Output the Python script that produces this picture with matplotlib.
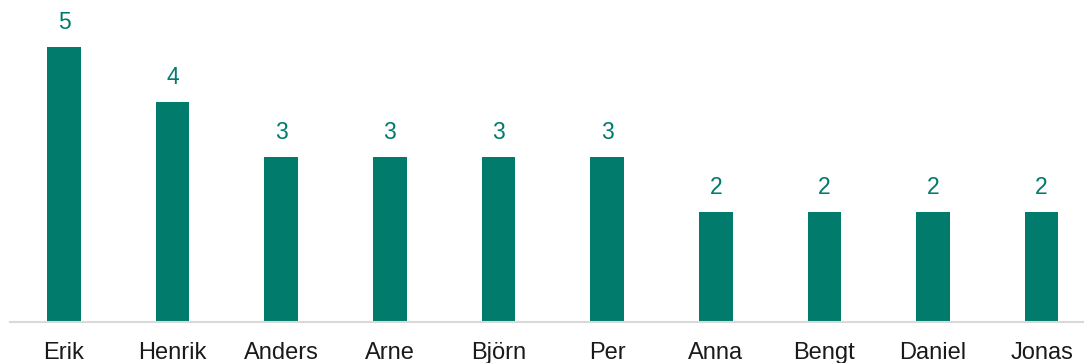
import matplotlib
matplotlib.use("Agg")
import matplotlib.pyplot as plt

names = ["Erik", "Henrik", "Anders", "Arne", "Björn", "Per", "Anna", "Bengt", "Daniel", "Jonas"]
counts = [5, 4, 3, 3, 3, 3, 2, 2, 2, 2]

W, H = 1084, 363
fig = plt.figure(figsize=(W / 100, H / 100), dpi=100)
ax = fig.add_axes([10 / W, 41 / H, 1074 / W, 322 / H])

bar_color = "#007B6C"
x = list(range(len(names)))
bars = ax.bar(x, counts, width=0.31, color=bar_color)

ax.set_xlim(-0.497, 9.39)
ax.set_ylim(0, 322 / 55)

for xi, v in zip(x, counts):
    ax.text(xi, v + 0.325, str(v), ha="center", va="baseline",
            fontsize=16.5, color=bar_color, family="Liberation Sans")

ax.set_xticks(x)
ax.set_xticklabels(names, fontsize=17, color="#1a1a1a", family="Liberation Sans")
for lab in ax.get_xticklabels():
    lab.set_va("baseline")
ax.tick_params(axis="x", length=0, pad=26.5)
ax.set_yticks([])
for s in ["top", "right", "left"]:
    ax.spines[s].set_visible(False)
ax.spines["bottom"].set_color("#D9D9D9")
ax.spines["bottom"].set_linewidth(1.5)

fig.savefig("out.png", dpi=100)
